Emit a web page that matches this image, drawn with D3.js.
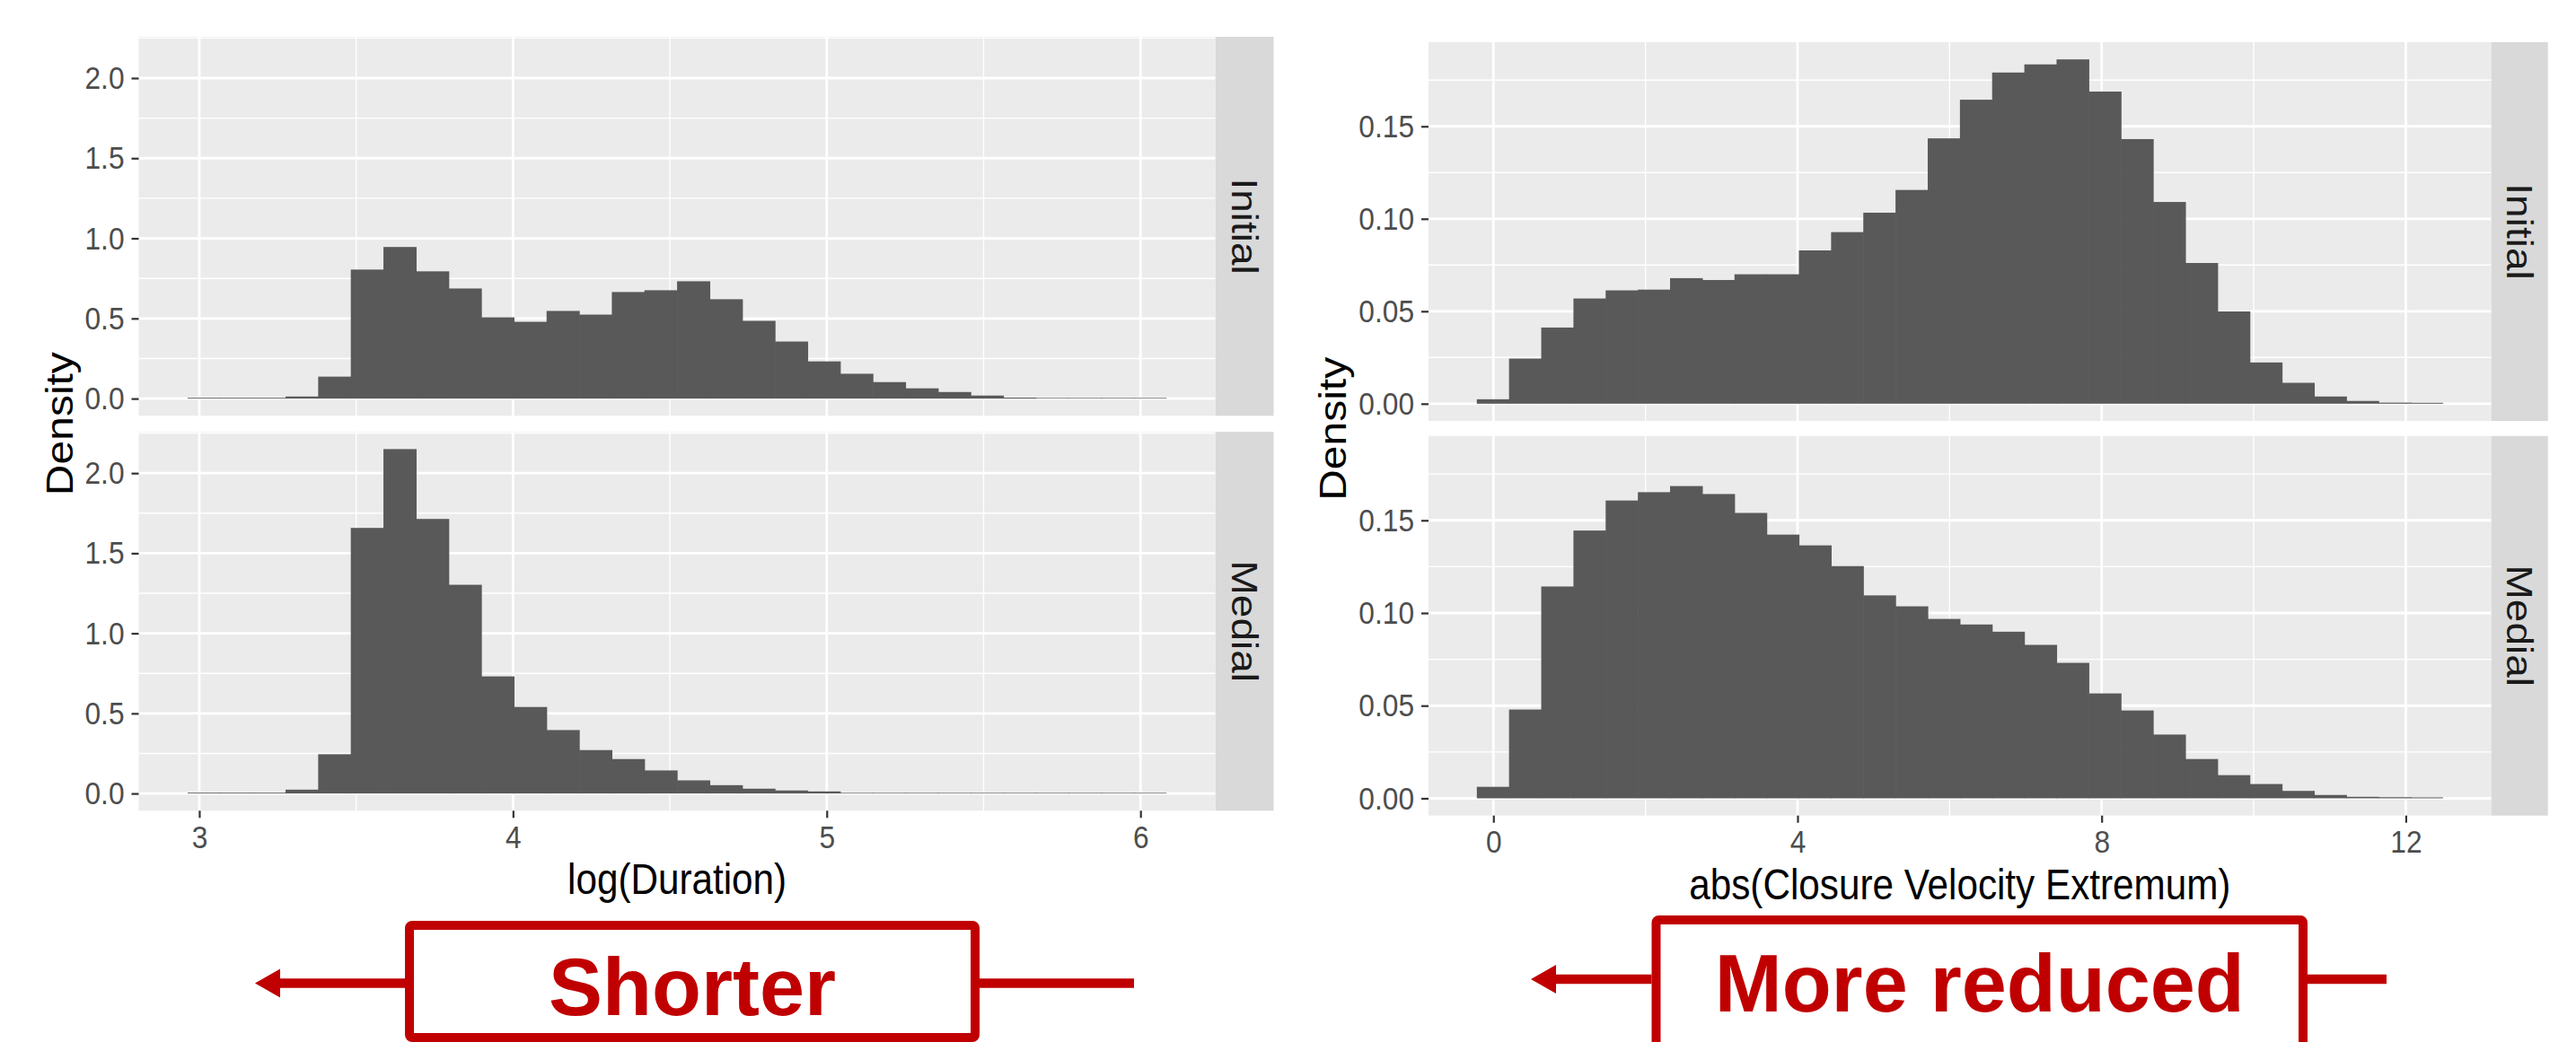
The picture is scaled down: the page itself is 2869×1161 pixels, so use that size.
<!DOCTYPE html>
<html>
<head>
<meta charset="utf-8">
<script src="https://cdn.jsdelivr.net/npm/d3@7"></script>
<style>
  body { margin: 0; background: #fff; }
  svg text { font-family: "Liberation Sans", Arial, Helvetica, sans-serif; }
</style>
</head>
<body>
<div class="viz"></div>
<script>
// facet rows
const facets = ["Initial", "Medial"];

// log(Duration), 30 bins
const durationBinStart = 2.963;
const durationBinWidth = 0.104;
const durationInitial = [0.005, 0.005, 0.005, 0.013, 0.137, 0.805, 0.946, 0.794, 0.687, 0.507,
    0.479, 0.547, 0.524, 0.665, 0.676, 0.732, 0.620, 0.485, 0.356, 0.232,
    0.155, 0.103, 0.064, 0.041, 0.019, 0.006, 0.004, 0.004, 0.004, 0.004];
const durationMedial = [0.005, 0.005, 0.005, 0.024, 0.245, 1.658, 2.150, 1.714, 1.303, 0.731,
    0.540, 0.396, 0.271, 0.215, 0.144, 0.082, 0.052, 0.030, 0.019, 0.013,
    0.004, 0.004, 0.004, 0.004, 0.004, 0.004, 0.004, 0.004, 0.004, 0.004];
const durationXTicks = [3, 4, 5, 6];
const durationYTicks = [0, 0.5, 1, 1.5, 2];

// abs(Closure Velocity Extremum), 30 bins
const velocityBinStart = -0.218;
const velocityBinWidth = 0.4236;
const velocityInitial = [0.0024, 0.0244, 0.0412, 0.0569, 0.0613, 0.0617, 0.0679, 0.0669, 0.0700, 0.0700,
    0.0829, 0.0928, 0.1033, 0.1156, 0.1435, 0.1644, 0.1791, 0.1835, 0.1862, 0.1688,
    0.1431, 0.1091, 0.0761, 0.0499, 0.0223, 0.0113, 0.0039, 0.0015, 0.0006, 0.0005];
const velocityMedial = [0.0062, 0.0479, 0.1143, 0.1445, 0.1607, 0.1652, 0.1685, 0.1642, 0.1540, 0.1423,
    0.1365, 0.1253, 0.1095, 0.1036, 0.0968, 0.0938, 0.0899, 0.0828, 0.0731, 0.0566,
    0.0474, 0.0344, 0.0212, 0.0125, 0.0077, 0.0040, 0.0018, 0.0008, 0.0006, 0.0005];
const velocityXTicks = [0, 4, 8, 12];
const velocityYTicks = [0, 0.05, 0.10, 0.15];

const SX = 0.88; // the R export looks squeezed sideways, text too

var svg = d3.select(".viz")
    .append("svg")
    .attr("width", 2869)
    .attr("height", 1161);

function styleText(sel, size, color) {
    sel.attr("font-size", size + "px").attr("fill", color);
}

function drawFacets(opt) {
    var n = opt.series[0].length;
    var lo = opt.binStart, hi = opt.binStart + n * opt.binWidth;
    var pad = 0.05 * (hi - lo);
    var x = d3.scaleLinear().domain([lo - pad, hi + pad]).range([opt.x0, opt.x1]);
    var ymax = d3.max(opt.series, s => d3.max(s));

    var g = svg.append("g");

    opt.series.forEach(function (vals, k) {
        var py = opt.panels[k];
        var y = d3.scaleLinear().domain([-0.05 * ymax, 1.05 * ymax]).range([py[1], py[0]]);

        g.append("rect")
            .attr("x", opt.x0).attr("y", py[0])
            .attr("width", opt.x1 - opt.x0).attr("height", py[1] - py[0])
            .attr("fill", "#EBEBEB");

        // minor grid halfway between the breaks
        var xs = opt.xTicks[1] - opt.xTicks[0];
        var ys = opt.yTicks[1] - opt.yTicks[0];
        var xMinor = d3.range(opt.xTicks[0] - xs / 2, opt.xTicks[opt.xTicks.length - 1] + xs, xs)
            .filter(d => d > x.domain()[0] && d < x.domain()[1]);
        var yMinor = d3.range(opt.yTicks[0] - ys / 2, opt.yTicks[opt.yTicks.length - 1] + ys, ys)
            .filter(d => d > y.domain()[0] && d < y.domain()[1]);

        g.selectAll(null).data(yMinor).enter().append("line")
            .attr("x1", opt.x0).attr("x2", opt.x1)
            .attr("y1", d => y(d)).attr("y2", d => y(d))
            .attr("stroke", "#fff").attr("stroke-width", 1.4);
        g.selectAll(null).data(xMinor).enter().append("line")
            .attr("y1", py[0]).attr("y2", py[1])
            .attr("x1", d => x(d)).attr("x2", d => x(d))
            .attr("stroke", "#fff").attr("stroke-width", 1.4);
        g.selectAll(null).data(opt.yTicks).enter().append("line")
            .attr("x1", opt.x0).attr("x2", opt.x1)
            .attr("y1", d => y(d)).attr("y2", d => y(d))
            .attr("stroke", "#fff").attr("stroke-width", 2.8);
        g.selectAll(null).data(opt.xTicks).enter().append("line")
            .attr("y1", py[0]).attr("y2", py[1])
            .attr("x1", d => x(d)).attr("x2", d => x(d))
            .attr("stroke", "#fff").attr("stroke-width", 2.8);

        // bars, overlapped by half a pixel so no seams show
        g.selectAll(null).data(vals).enter().append("rect")
            .attr("x", (d, i) => x(opt.binStart + i * opt.binWidth))
            .attr("width", (d, i) => x(opt.binStart + (i + 1) * opt.binWidth) - x(opt.binStart + i * opt.binWidth) + (i < n - 1 ? 0.6 : 0))
            .attr("y", d => y(d))
            .attr("height", d => y(0) - y(d))
            .attr("fill", "#595959");

        // y axis
        var ya = g.append("g")
            .attr("transform", `translate(${opt.x0},0)`)
            .call(d3.axisLeft(y).tickValues(opt.yTicks).tickFormat(d3.format(opt.yFormat)).tickSize(8));
        ya.select(".domain").remove();
        ya.selectAll(".tick line").attr("stroke", "#333").attr("stroke-width", 2.2);
        ya.selectAll(".tick text")
            .call(styleText, 36, "#4D4D4D")
            .attr("x", -16 / SX)
            .attr("transform", `scale(${SX},1)`);

        if (k == opt.series.length - 1) {
            var xa = g.append("g")
                .attr("transform", `translate(0,${py[1]})`)
                .call(d3.axisBottom(x).tickValues(opt.xTicks).tickFormat(d3.format("d")).tickSize(8).tickPadding(8));
            xa.select(".domain").remove();
            xa.selectAll(".tick line").attr("stroke", "#333").attr("stroke-width", 2.2);
            xa.selectAll(".tick text")
                .call(styleText, 36, "#4D4D4D")
                .attr("transform", `scale(${SX},1)`);

            g.append("text")
                .attr("transform", `translate(${(opt.x0 + opt.x1) / 2},${py[1] + 93}) scale(${SX},1)`)
                .attr("text-anchor", "middle")
                .call(styleText, 48, "#000")
                .text(opt.xTitle);
        }

        // facet strip
        g.append("rect")
            .attr("x", opt.x1).attr("y", py[0])
            .attr("width", opt.stripW).attr("height", py[1] - py[0])
            .attr("fill", "#D9D9D9");
        g.append("text")
            .attr("transform", `translate(${opt.x1 + opt.stripW / 2},${(py[0] + py[1]) / 2}) scale(${SX},1) rotate(90)`)
            .attr("text-anchor", "middle")
            .attr("dy", "0.36em")
            .call(styleText, 46, "#1A1A1A")
            .text(facets[k]);
    });

    var top = opt.panels[0][0], bot = opt.panels[opt.panels.length - 1][1];
    g.append("text")
        .attr("transform", `translate(${opt.yTitleX},${(top + bot) / 2}) scale(${SX},1) rotate(-90)`)
        .attr("text-anchor", "middle")
        .call(styleText, 48, "#000")
        .text("Density");
}

drawFacets({
    x0: 154.5, x1: 1353.7, stripW: 64.8,
    panels: [[41, 463.3], [481.2, 903.3]],
    series: [durationInitial, durationMedial],
    binStart: durationBinStart, binWidth: durationBinWidth,
    xTicks: durationXTicks, yTicks: durationYTicks, yFormat: ".1f",
    xTitle: "log(Duration)", yTitleX: 81
});

drawFacets({
    x0: 1591, x1: 2774.7, stripW: 63,
    panels: [[47, 469], [485.8, 908.7]],
    series: [velocityInitial, velocityMedial],
    binStart: velocityBinStart, binWidth: velocityBinWidth,
    xTicks: velocityXTicks, yTicks: velocityYTicks, yFormat: ".2f",
    xTitle: "abs(Closure Velocity Extremum)", yTitleX: 1499
});

// red call-outs under the plots
var red = "#C00000";
function callout(c) {
    var a = svg.append("g");
    a.append("line")
        .attr("x1", c.tip + 20).attr("x2", c.boxL).attr("y1", c.lineY).attr("y2", c.lineY)
        .attr("stroke", red).attr("stroke-width", 10.5);
    a.append("path")
        .attr("d", `M${c.tip},${c.lineY} L${c.tip + 28},${c.lineY - 16} L${c.tip + 28},${c.lineY + 16} Z`)
        .attr("fill", red);
    a.append("line")
        .attr("x1", c.boxR).attr("x2", c.end).attr("y1", c.lineY).attr("y2", c.lineY)
        .attr("stroke", red).attr("stroke-width", 10.5);
    a.append("rect")
        .attr("x", c.boxL + 5).attr("y", c.boxT + 5)
        .attr("width", c.boxR - c.boxL - 10).attr("height", c.boxH)
        .attr("rx", 3)
        .attr("fill", "#fff").attr("stroke", red).attr("stroke-width", 10);
    a.append("text")
        .attr("x", (c.boxL + c.boxR) / 2).attr("y", c.baseline)
        .attr("text-anchor", "middle")
        .attr("font-weight", "bold")
        .call(styleText, 90, red)
        .text(c.label);
}

callout({ label: "Shorter", tip: 284, boxL: 451, boxR: 1091, boxT: 1026, boxH: 125, end: 1263, lineY: 1095.5, baseline: 1131 });
callout({ label: "More reduced", tip: 1705, boxL: 1839.5, boxR: 2570, boxT: 1020, boxH: 160, end: 2658, lineY: 1091, baseline: 1127 });
</script>
</body>
</html>
